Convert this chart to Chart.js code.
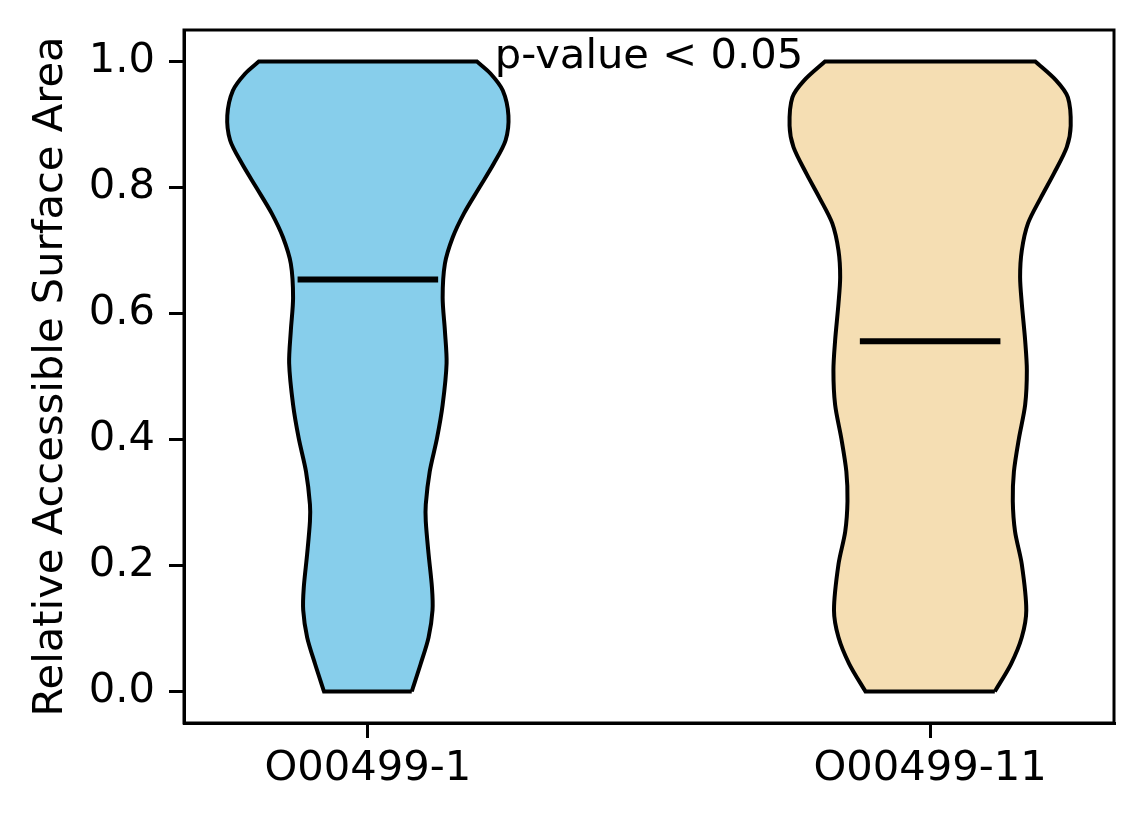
<!DOCTYPE html>
<html>
<head>
<meta charset="utf-8">
<script src="https://cdn.jsdelivr.net/npm/chart.js@4"></script>
<style>
  body { margin: 0; background: #fff; }
  canvas { display: block; }
</style>
</head>
<body>
<canvas id="chart" width="1144" height="824"></canvas>
<script>
// categories and where they sit on the x axis
const categories = ['O00499-1', 'O00499-11'];
const positions = [1, 2];
const colors = ['#87CEEB', '#F5DEB3'];

// violin 1: value grid and half width (x units)
const values1 = [0.0, 0.044, 0.086, 0.129, 0.165, 0.218, 0.270, 0.297, 0.349, 0.402, 0.455, 0.521,
                 0.573, 0.625, 0.679, 0.721, 0.759, 0.798, 0.838, 0.875, 0.914, 0.954, 0.981, 1.0];
const halfWidth1 = [0.078, 0.094, 0.108, 0.115, 0.114, 0.108, 0.103, 0.103, 0.110, 0.123, 0.133, 0.140,
                    0.137, 0.133, 0.137, 0.151, 0.171, 0.197, 0.224, 0.245, 0.250, 0.240, 0.218, 0.194];

// violin 2
const values2 = [0.0, 0.044, 0.086, 0.129, 0.202, 0.254, 0.302, 0.349, 0.402, 0.455, 0.510, 0.557,
                 0.616, 0.658, 0.700, 0.743, 0.784, 0.822, 0.864, 0.898, 0.943, 0.970, 1.0];
const halfWidth2 = [0.115, 0.144, 0.163, 0.171, 0.163, 0.151, 0.147, 0.149, 0.158, 0.169, 0.172, 0.169,
                    0.163, 0.160, 0.163, 0.174, 0.197, 0.220, 0.243, 0.250, 0.245, 0.224, 0.187];

// mean of each group
const means = [0.654, 0.556];
const meanHalfLength = 0.125;

const yTicks = [0.0, 0.2, 0.4, 0.6, 0.8, 1.0];
const annotation = 'p-value < 0.05';

const FONT = 'DejaVu Sans';
const FS = 41.67;
Chart.defaults.font.family = FONT;
Chart.defaults.color = '#000';

// outline of a violin: up the right side, down the left side, back to start.
// corner points are doubled so the curve keeps sharp corners there
function outline(pos, vals, hw) {
  const right = vals.map((v, i) => ({ x: pos + hw[i], y: v }));
  const left = vals.map((v, i) => ({ x: pos - hw[i], y: v })).reverse();
  const n = right.length;
  return [right[0]].concat(right, [right[n - 1], left[0]], left, [left[n - 1], right[0], right[0]]);
}

const violinSets = [
  outline(positions[0], values1, halfWidth1),
  outline(positions[1], values2, halfWidth2)
].map((pts, i) => ({
  data: pts,
  order: 2,
  showLine: true,
  fill: 'shape',
  backgroundColor: colors[i],
  borderColor: '#000',
  borderWidth: 4,
  tension: 0.3,
  pointRadius: 0
}));

const meanSets = means.map((m, i) => ({
  data: [{ x: positions[i] - meanHalfLength, y: m }, { x: positions[i] + meanHalfLength, y: m }],
  order: 1,
  showLine: true,
  fill: false,
  borderColor: '#000',
  borderWidth: 6,
  pointRadius: 0
}));

// frame round the plot plus the p-value note
const framePlugin = {
  id: 'frame',
  afterDraw(chart) {
    const { ctx, chartArea: a, scales } = chart;
    ctx.save();
    ctx.strokeStyle = '#000';
    ctx.lineWidth = 3;
    ctx.strokeRect(a.left, a.top, a.right - a.left, a.bottom - a.top);
    ctx.fillStyle = '#000';
    ctx.font = FS + 'px "' + FONT + '"';
    ctx.textAlign = 'center';
    ctx.textBaseline = 'alphabetic';
    ctx.fillText(annotation, scales.x.getPixelForValue(1.5), scales.y.getPixelForValue(1.0) + 6);
    ctx.restore();
  }
};

new Chart(document.getElementById('chart'), {
  type: 'scatter',
  data: { datasets: violinSets.concat(meanSets) },
  options: {
    responsive: false,
    devicePixelRatio: 1,
    animation: false,
    events: [],
    layout: { padding: { top: 30, right: 30, left: 0, bottom: 0 } },
    plugins: { legend: { display: false }, tooltip: { enabled: false } },
    scales: {
      x: {
        type: 'linear',
        min: 0.673,
        max: 2.327,
        afterBuildTicks: s => { s.ticks = positions.map(v => ({ value: v })); },
        afterFit: s => { s.height = 101; s.paddingLeft = 0; s.paddingRight = 0; },
        ticks: {
          callback: v => categories[positions.indexOf(v)],
          font: { size: FS },
          color: '#000',
          padding: 6,
          maxRotation: 0
        },
        grid: { drawOnChartArea: false, tickLength: 15, lineWidth: 3, color: '#000' },
        border: { color: '#000', width: 3 }
      },
      y: {
        type: 'linear',
        min: -0.05,
        max: 1.05,
        afterBuildTicks: s => { s.ticks = yTicks.map(v => ({ value: v })); },
        afterFit: s => { s.width = 184; s.paddingTop = 0; s.paddingBottom = 0; },
        ticks: {
          callback: v => v.toFixed(1),
          font: { size: FS },
          color: '#000',
          padding: 14
        },
        grid: { drawOnChartArea: false, tickLength: 15, lineWidth: 3, color: '#000' },
        border: { color: '#000', width: 3 },
        title: {
          display: true,
          text: 'Relative Accessible Surface Area',
          font: { size: FS },
          color: '#000',
          padding: { top: 26, bottom: 0 }
        }
      }
    }
  },
  plugins: [framePlugin]
});
</script>
</body>
</html>
